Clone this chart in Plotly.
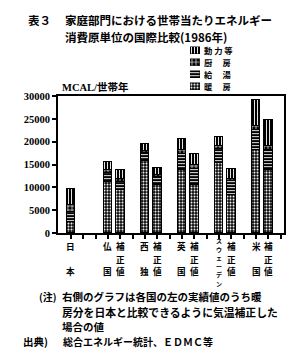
import plotly.graph_objects as go

# ---------------- data ----------------
countries = ["日本", "仏国", "西独", "英国", "スウェーデン", "米国"]
# vertical labels: one entry per text row ("" = empty row)
country_labels = [["日", "", "本"], ["仏", "", "国"], ["西", "", "独"], ["英", "", "国"],
                  ["ス", "ウ", "ェ", "ー", "デ", "ン"], ["米", "", "国"]]
corrected_label = ["補", "正", "値"]
has_corrected = [False, True, True, True, True, True]

uses = ["暖房", "給湯", "厨房", "動力等"]          # bottom -> top
use_labels = {"動力等": "動 力 等", "厨房": "厨　 房", "給湯": "給　 湯", "暖房": "暖　 房"}

heating_actual    = [2300, 11200, 15800, 13800, 15400, 18100]
heating_corrected = [None, 9300, 10600, 10600, 8300, 13700]
hot_water         = [2300, 1900, 1600, 3400, 3000, 4400]
cooking           = [1400, 700, 500, 900, 600, 1000]
power             = [3600, 1800, 1600, 2400, 2000, 5700]

y_ticks = [0, 5000, 10000, 15000, 20000, 25000, 30000]

# ---------------- styles ----------------
W, H = 300, 350
ML, MR, MT, MB = 58, 16, 10, 117
PW, PH = W - ML - MR, H - MT - MB
PLOT_TOP = 93

def px(x):
    return (x - ML) / PW

def py(y):
    return (H - MB - y) / PH

CJK = "Noto Sans CJK JP"
SERIF = "Liberation Serif, Noto Sans CJK JP"

patterns = {
    "暖房":  dict(shape=".", size=3, solidity=0.4),
    "給湯":  dict(shape="-", size=3, solidity=0.3),
    "厨房":  dict(shape="+", size=4, solidity=0.3),
    "動力等": dict(shape="|", size=3, solidity=0.3),
}

series = {
    "暖房": (heating_actual, heating_corrected),
    "給湯": (hot_water, hot_water),
    "厨房": (cooking, cooking),
    "動力等": (power, power),
}

fig = go.Figure()
n_slots = 3 * len(countries)

for use in uses:
    act, cor = series[use]
    xs, ys = [], []
    for g in range(len(countries)):
        xs.append(3 * g)
        ys.append(act[g])
        if has_corrected[g]:
            xs.append(3 * g + 1)
            ys.append(cor[g])
    p = patterns[use]
    fig.add_trace(go.Bar(
        x=xs, y=ys, name=use, width=0.72,
        marker=dict(color="black", line=dict(color="black", width=1),
                    pattern=dict(shape=p["shape"], size=p["size"], solidity=p["solidity"],
                                 fgcolor="white", bgcolor="black", fillmode="replace")),
        showlegend=False,
    ))

# manual legend (top to bottom)
legend_order = ["動力等", "厨房", "給湯", "暖房"]
fig.add_trace(go.Bar(
    x=[1] * len(legend_order), y=list(range(len(legend_order))), orientation="h",
    xaxis="x2", yaxis="y2", width=0.58, showlegend=False,
    marker=dict(color="black", line=dict(color="black", width=0.5),
                pattern=dict(shape=[patterns[u]["shape"] for u in legend_order],
                             size=[patterns[u]["size"] for u in legend_order],
                             solidity=[patterns[u]["solidity"] for u in legend_order],
                             fgcolor="white", bgcolor="black", fillmode="replace")),
    hoverinfo="skip",
))

annotations = []
leg_top, leg_step = 46, 12.3
for i, u in enumerate(legend_order):
    annotations.append(dict(text="<b>" + use_labels[u] + "</b>", xref="paper", yref="paper",
                            x=px(203), y=py(leg_top + i * leg_step), xanchor="left", yanchor="middle",
                            showarrow=False, borderpad=0,
                            font=dict(family=CJK, size=8.3, color="black")))

# x category labels (vertical, one annotation per character)
def vertical_label(chars, xpos, size, top, step):
    for k, ch in enumerate(chars):
        if not ch:
            continue
        annotations.append(dict(text="<b>" + ch + "</b>", xref="x", yref="paper", x=xpos, y=0,
                                yanchor="top", yshift=-(top + step * k), showarrow=False,
                                borderpad=0, font=dict(family=CJK, size=size, color="black")))

for g in range(len(countries)):
    chars = country_labels[g]
    if len(chars) > 3:
        vertical_label(chars, 3 * g, 6, 2, 8.5)
    else:
        vertical_label(chars, 3 * g, 8.6, 6, 12.5)
    if has_corrected[g]:
        vertical_label(corrected_label, 3 * g + 1, 8.6, 6, 12.5)

def txt(text, x, y, size, family=CJK, anchor="left"):
    annotations.append(dict(text="<b>" + text + "</b>", xref="paper", yref="paper",
                            x=px(x), y=py(y), xanchor=anchor, yanchor="middle",
                            showarrow=False, borderpad=0,
                            font=dict(family=family, size=size, color="black")))

# title
txt("表３", 27, 15, 11.5)
txt("家庭部門における世帯当たりエネルギー", 64, 15, 11.5)
txt("消費原単位の国際比較(1986年)", 64, 32, 11.5)
# unit
txt("MCAL/世帯年", 61, 84, 10.5, family=SERIF)
# notes
txt("(注)", 38, 298, 10)
txt("右側のグラフは各国の左の実績値のうち暖", 61, 298, 10.5)
txt("房分を日本と比較できるように気温補正した", 61, 313.5, 10.8)
txt("場合の値", 61, 329, 10.5)
txt("出典)", 22, 344, 10.5)
txt("総合エネルギー統計、ＥＤＭＣ等", 62, 344, 10)

fig.update_layout(
    width=W, height=H, margin=dict(l=ML, r=MR, t=MT, b=MB, pad=0),
    paper_bgcolor="white", plot_bgcolor="white", barmode="stack", bargap=0,
    showlegend=False, annotations=annotations,
    xaxis=dict(range=[-1.05, 17.27], tickvals=list(range(n_slots)), showticklabels=False,
               ticks="outside", ticklen=4, tickwidth=1.5, tickcolor="black",
               showline=True, linewidth=2, linecolor="black", mirror=True,
               showgrid=False, zeroline=False, domain=[0, 1], fixedrange=True),
    yaxis=dict(range=[0, 30000], tickvals=y_ticks, tickformat="d", ticks="outside", ticklen=4,
               tickwidth=1.5, tickcolor="black", showline=True, linewidth=2, linecolor="black",
               mirror=True, showgrid=False, zeroline=False, domain=[0, py(PLOT_TOP)],
               tickfont=dict(family=SERIF, size=10.5, color="black", weight="bold"),
               fixedrange=True),
    xaxis2=dict(range=[0, 1], domain=[px(190), px(200)], anchor="y2", visible=False,
                fixedrange=True),
    yaxis2=dict(range=[len(legend_order) - 0.5, -0.5],
                domain=[py(leg_top + 3.5 * leg_step), py(leg_top - 0.5 * leg_step)],
                anchor="x2", visible=False, fixedrange=True),
)

fig.write_html("out.html")
